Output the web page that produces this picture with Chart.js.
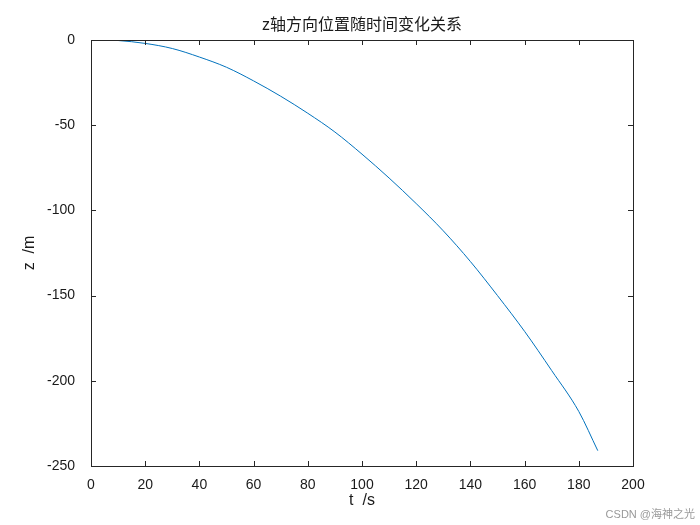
<!DOCTYPE html><html><head><meta charset="utf-8"><script src="https://cdn.jsdelivr.net/npm/chart.js@4"></script>
<style>body{margin:0;background:#fff}</style></head><body><div style="width:700px;height:525px"><canvas id="c"></canvas></div>
<script>
const tVals=[0,5,10,20,30,40,50,60,70,80,90,100,110,120,130,140,150,160,170,180,187];
const zVals=[0,0,-0.3,-2,-5,-10,-16,-24,-33,-43,-54,-67,-81,-96,-112,-130,-150,-171,-194,-218,-241];
const xTicks=[0,20,40,60,80,100,120,140,160,180,200];
const yTicks=[0,-50,-100,-150,-200,-250];
const titleText='z轴方向位置随时间变化关系';
const F='Arial, "Liberation Sans", "Noto Sans CJK SC", sans-serif';
const box={id:'box',afterDraw(ch){const c=ch.ctx,a=ch.chartArea,xs=ch.scales.x,ys=ch.scales.y;c.save();c.strokeStyle='#262626';c.lineWidth=1;
c.strokeRect(Math.round(a.left)+.5,Math.round(a.top)+.5,Math.round(a.right-a.left),Math.round(a.bottom-a.top));
c.beginPath();xTicks.forEach(v=>{const x=Math.round(xs.getPixelForValue(v))+.5;c.moveTo(x,a.bottom);c.lineTo(x,a.bottom-5);c.moveTo(x,a.top);c.lineTo(x,a.top+5);});
yTicks.forEach(v=>{const y=Math.round(ys.getPixelForValue(v))+.5;c.moveTo(a.left,y);c.lineTo(a.left+5,y);c.moveTo(a.right,y);c.lineTo(a.right-5,y);});c.stroke();
c.fillStyle='#1a1a1a';c.font='16px '+F;c.textAlign='center';c.textBaseline='bottom';c.fillText(titleText,(a.left+a.right)/2,a.top-6);
c.textBaseline='top';c.fillText('t  /s',(a.left+a.right)/2,a.bottom+27);
c.translate(a.left-53,(a.top+a.bottom)/2);c.rotate(-Math.PI/2);c.textBaseline='bottom';c.fillText('z  /m',0,0);c.restore();
c.save();c.fillStyle='#999';c.font='11px '+F;c.textAlign='right';c.textBaseline='bottom';c.fillText('CSDN @海神之光',695,520);c.restore();}};
new Chart(document.getElementById('c'),{type:'line',data:{datasets:[{data:tVals.map((t,i)=>({x:t,y:zVals[i]})),borderColor:'#0072BD',borderWidth:1,pointRadius:0,cubicInterpolationMode:'monotone'}]},
options:{responsive:true,maintainAspectRatio:false,animation:false,layout:{padding:{top:40,right:67,left:0,bottom:0}},plugins:{legend:{display:false},tooltip:{enabled:false}},
scales:{x:{type:'linear',min:0,max:200,afterBuildTicks(s){s.ticks=xTicks.map(v=>({value:v}));},afterFit(s){s.height=59;},grid:{display:false},border:{display:false},ticks:{color:'#1a1a1a',font:{size:14,family:F},maxRotation:0,padding:3}},
y:{min:-250,max:0,afterBuildTicks(s){s.ticks=yTicks.map(v=>({value:v}));},afterFit(s){s.width=91;},grid:{display:false},border:{display:false},ticks:{color:'#1a1a1a',font:{size:14,family:F},padding:8}}}},plugins:[box]});
</script></body></html>
